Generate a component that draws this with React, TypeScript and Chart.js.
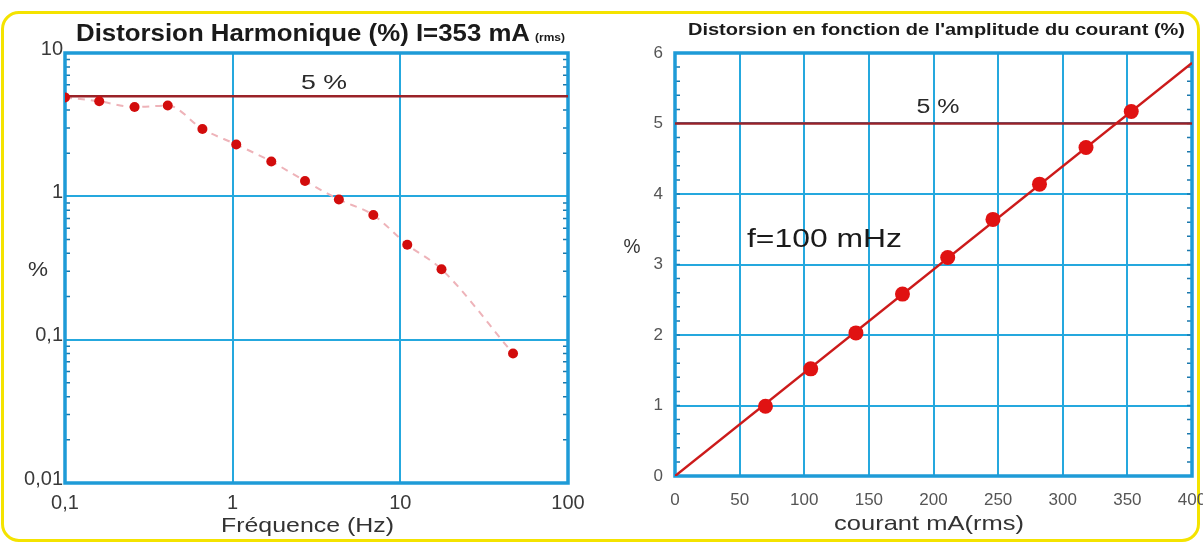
import React, { useEffect, useRef } from "react";
import { Chart, registerables } from "chart.js";

Chart.register(...registerables);

// ---------- Left chart data: harmonic distortion vs frequency ----------
const freqHz = [0.1, 0.16, 0.26, 0.41, 0.66, 1.05, 1.7, 2.7, 4.3, 6.9, 11, 17.6, 47];
const thdPct = [4.9, 4.6, 4.2, 4.3, 2.95, 2.3, 1.75, 1.28, 0.95, 0.74, 0.46, 0.31, 0.08];
const freqTicks = [0.1, 1, 10, 100];
const freqTickLabels = ["0,1", "1", "10", "100"];
const pctLogTicks = [0.01, 0.1, 1, 10];
const pctLogTickLabels = ["0,01", "0,1", "1", "10"];
const limitPct = 5;

// ---------- Right chart data: distortion vs current amplitude ----------
const currentMA = [70, 105, 140, 176, 211, 246, 282, 318, 353];
const distPct = [0.99, 1.52, 2.03, 2.58, 3.1, 3.64, 4.14, 4.66, 5.17];
const fitCurrentMA = [0, 400];
const fitPct = [0, 5.86];
const currentTicks = [0, 50, 100, 150, 200, 250, 300, 350, 400];
const pctLinTicks = [0, 1, 2, 3, 4, 5, 6];

const FONT = '"Liberation Sans", Arial, Helvetica, sans-serif';
const GRID = "#25a8de";
const FRAME = "#1e9bd7";
const LIMIT = "#9a2228";
const RED = "#d20c0c";

Chart.defaults.font.family = FONT;

function labelFor(ticks: number[], labels: string[], v: number): string {
  for (let i = 0; i < ticks.length; i++) {
    if (Math.abs(ticks[i] - v) < 1e-9 * Math.max(1, Math.abs(v))) return labels[i];
  }
  return "";
}

function drawText(
  ctx: CanvasRenderingContext2D,
  text: string,
  cx: number,
  cy: number,
  size: number,
  weight: string,
  color: string,
  targetW?: number
) {
  ctx.save();
  ctx.font = `${weight} ${size}px ${FONT}`;
  ctx.fillStyle = color;
  ctx.textAlign = "center";
  ctx.textBaseline = "middle";
  const w = ctx.measureText(text).width;
  const sx = targetW ? targetW / w : 1;
  ctx.translate(cx, cy);
  ctx.scale(sx, 1);
  ctx.fillText(text, 0, 0);
  ctx.restore();
}

function framePlugin(minorY: number[]) {
  return {
    id: "frame",
    beforeDatasetsDraw(chart: any) {
      const { ctx, chartArea } = chart;
      const ys = chart.scales.y;
      ctx.save();
      ctx.strokeStyle = "#1a78ad";
      ctx.lineWidth = 1.5;
      for (const v of minorY) {
        const p = ys.getPixelForValue(v);
        ctx.beginPath();
        ctx.moveTo(chartArea.left, p);
        ctx.lineTo(chartArea.left + 5, p);
        ctx.moveTo(chartArea.right - 5, p);
        ctx.lineTo(chartArea.right, p);
        ctx.stroke();
      }
      ctx.strokeStyle = FRAME;
      ctx.lineWidth = 3.5;
      ctx.strokeRect(
        chartArea.left,
        chartArea.top,
        chartArea.right - chartArea.left,
        chartArea.bottom - chartArea.top
      );
      ctx.restore();
    },
  };
}

const leftMinor: number[] = [];
for (let k = -2; k <= 0; k++) for (let d = 2; d <= 9; d++) leftMinor.push(d * Math.pow(10, k));
const rightMinor: number[] = [];
for (let v = 0.2; v < 6; v += 0.2) rightMinor.push(Math.round(v * 10) / 10);

export default function App() {
  const leftRef = useRef<HTMLCanvasElement>(null);
  const rightRef = useRef<HTMLCanvasElement>(null);

  useEffect(() => {
    const leftText = {
      id: "leftText",
      afterDraw(chart: any) {
        const ctx = chart.ctx;
        drawText(ctx, "Distorsion Harmonique (%) I=353 mA", 303, 35, 23, "bold", "#1a1a1a", 454);
        drawText(ctx, "(rms)", 550, 38, 11, "bold", "#1a1a1a", 30);
        drawText(ctx, "5 %", 324, 83, 21, "normal", "#2a2a2a", 46);
        drawText(ctx, "%", 38, 270, 21, "normal", "#333", 20);
        drawText(ctx, "Fréquence (Hz)", 307.5, 526, 21, "normal", "#333", 173);
      },
    };

    const left = new Chart(leftRef.current as HTMLCanvasElement, {
      type: "scatter",
      data: {
        datasets: [
          {
            label: "THD",
            data: freqHz.map((x, i) => ({ x, y: thdPct[i] })),
            pointRadius: 5,
            pointBackgroundColor: RED,
            pointBorderWidth: 0,
            showLine: false,
            order: 0,
          },
          {
            label: "5 %",
            data: [
              { x: freqTicks[0], y: limitPct },
              { x: freqTicks[freqTicks.length - 1], y: limitPct },
            ],
            showLine: true,
            borderColor: LIMIT,
            borderWidth: 2.5,
            pointRadius: 0,
            order: 1,
          },
          {
            label: "trend",
            data: freqHz.map((x, i) => ({ x, y: thdPct[i] })),
            showLine: true,
            borderColor: "#eeb3b9",
            borderWidth: 2,
            borderDash: [7, 6],
            cubicInterpolationMode: "monotone",
            pointRadius: 0,
            order: 2,
          },
        ],
      } as any,
      options: {
        animation: false,
        responsive: false,
        layout: { padding: { left: 0, top: 53, right: 32, bottom: 0 } },
        plugins: { legend: { display: false }, tooltip: { enabled: false } },
        scales: {
          x: {
            type: "logarithmic",
            min: 0.1,
            max: 100,
            afterBuildTicks: (axis: any) => {
              axis.ticks = freqTicks.map((v) => ({ value: v }));
            },
            afterFit: (axis: any) => {
              axis.height = 60;
              axis.paddingLeft = 0;
              axis.paddingRight = 0;
            },
            ticks: {
              callback: (v: any) => labelFor(freqTicks, freqTickLabels, Number(v)),
              font: { size: 20 },
              color: "#3a3a3a",
              padding: 8,
              maxRotation: 0,
              autoSkip: false,
            },
            grid: { color: GRID, lineWidth: 2, drawTicks: false },
            border: { display: false },
          },
          y: {
            type: "logarithmic",
            min: 0.01,
            max: 10,
            afterBuildTicks: (axis: any) => {
              axis.ticks = pctLogTicks.map((v) => ({ value: v }));
            },
            afterFit: (axis: any) => {
              axis.width = 65;
              axis.paddingTop = 0;
              axis.paddingBottom = 0;
            },
            ticks: {
              callback: (v: any) => labelFor(pctLogTicks, pctLogTickLabels, Number(v)),
              font: { size: 20 },
              color: "#3a3a3a",
              padding: 2,
              labelOffset: -4,
              autoSkip: false,
            },
            grid: { color: GRID, lineWidth: 2, drawTicks: false },
            border: { display: false },
          },
        },
      } as any,
      plugins: [framePlugin(leftMinor), leftText],
    });

    const rightText = {
      id: "rightText",
      afterDraw(chart: any) {
        const ctx = chart.ctx;
        drawText(ctx, "Distorsion en fonction de l'amplitude du courant (%)", 936.5 - 600, 31, 16, "bold", "#1a1a1a", 497);
        drawText(ctx, "5 %", 938 - 600, 107, 20, "normal", "#2a2a2a", 43);
        drawText(ctx, "f=100 mHz", 824.5 - 600, 240, 25, "normal", "#1a1a1a", 155);
        drawText(ctx, "%", 632 - 600, 247, 20, "normal", "#333", 17);
        drawText(ctx, "courant mA(rms)", 929 - 600, 524, 21, "normal", "#333", 190);
      },
    };

    const right = new Chart(rightRef.current as HTMLCanvasElement, {
      type: "scatter",
      data: {
        datasets: [
          {
            label: "mesures",
            data: currentMA.map((x, i) => ({ x, y: distPct[i] })),
            pointRadius: 7.5,
            pointBackgroundColor: "#e01212",
            pointBorderWidth: 0,
            showLine: false,
            order: 0,
          },
          {
            label: "fit",
            data: fitCurrentMA.map((x, i) => ({ x, y: fitPct[i] })),
            showLine: true,
            borderColor: "#cc1a1a",
            borderWidth: 2.5,
            pointRadius: 0,
            order: 1,
          },
          {
            label: "5 %",
            data: [
              { x: currentTicks[0], y: limitPct },
              { x: currentTicks[currentTicks.length - 1], y: limitPct },
            ],
            showLine: true,
            borderColor: LIMIT,
            borderWidth: 2.5,
            pointRadius: 0,
            order: 2,
          },
        ],
      } as any,
      options: {
        animation: false,
        responsive: false,
        layout: { padding: { left: 0, top: 53, right: 48, bottom: 0 } },
        plugins: { legend: { display: false }, tooltip: { enabled: false } },
        scales: {
          x: {
            type: "linear",
            min: 0,
            max: 400,
            afterBuildTicks: (axis: any) => {
              axis.ticks = currentTicks.map((v) => ({ value: v }));
            },
            afterFit: (axis: any) => {
              axis.height = 67;
              axis.paddingLeft = 0;
              axis.paddingRight = 0;
            },
            ticks: {
              font: { size: 17 },
              color: "#555",
              padding: 14,
              maxRotation: 0,
              autoSkip: false,
            },
            grid: { color: GRID, lineWidth: 2, drawTicks: false },
            border: { display: false },
          },
          y: {
            type: "linear",
            min: 0,
            max: 6,
            afterBuildTicks: (axis: any) => {
              axis.ticks = pctLinTicks.map((v) => ({ value: v }));
            },
            afterFit: (axis: any) => {
              axis.width = 75;
              axis.paddingTop = 0;
              axis.paddingBottom = 0;
            },
            ticks: {
              font: { size: 17 },
              color: "#555",
              padding: 12,
              autoSkip: false,
            },
            grid: { color: GRID, lineWidth: 2, drawTicks: false },
            border: { display: false },
          },
        },
      } as any,
      plugins: [framePlugin(rightMinor), rightText],
    });

    return () => {
      left.destroy();
      right.destroy();
    };
  }, []);

  return (
    <div
      style={{
        position: "fixed",
        left: 0,
        top: 0,
        width: 1203,
        height: 543,
        overflow: "hidden",
        background: "#ffffff",
      }}
    >
      <div
        style={{
          position: "absolute",
          left: 1,
          top: 11,
          width: 1199,
          height: 531,
          border: "3.5px solid #f4e300",
          borderRadius: 18,
          boxSizing: "border-box",
        }}
      />
      <canvas
        ref={leftRef}
        width={600}
        height={543}
        style={{ position: "absolute", left: 0, top: 0, width: 600, height: 543 }}
      />
      <canvas
        ref={rightRef}
        width={640}
        height={543}
        style={{ position: "absolute", left: 600, top: 0, width: 640, height: 543 }}
      />
    </div>
  );
}
